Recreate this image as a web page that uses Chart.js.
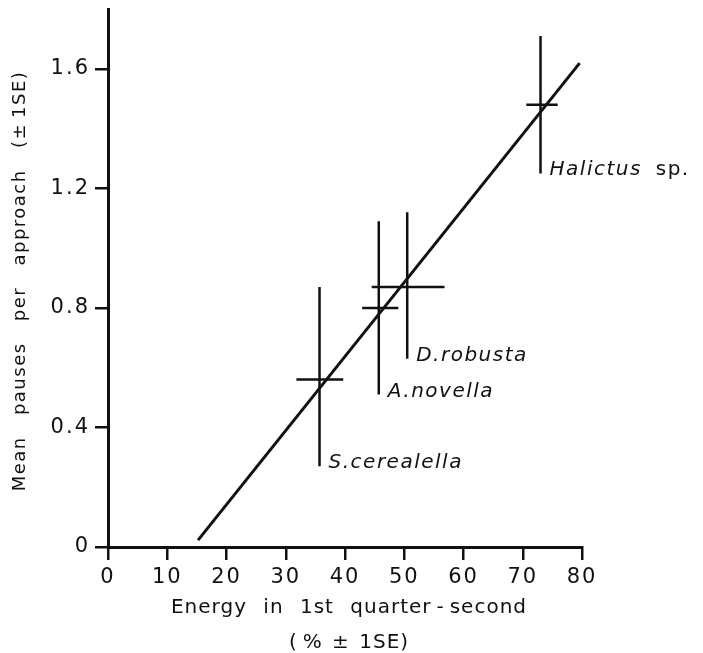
<!DOCTYPE html>
<html><head><meta charset="utf-8">
<script src="https://cdn.jsdelivr.net/npm/chart.js@4"></script>
<style>html,body{margin:0;padding:0;background:#fff}canvas{display:block}</style>
</head><body>
<canvas id="c" width="703" height="653"></canvas>
<script>
// ---- data ----
const species = ['S.cerealella', 'A.novella', 'D.robusta', 'Halictus'];
const speciesSuffix = ['', '', '', ' sp.'];
const energyMean = [35.7, 45.7, 50.5, 73.0];
const energyLow  = [31.8, 42.9, 44.5, 70.6];
const energyHigh = [39.7, 49.0, 56.8, 75.9];
const pausesMean = [0.56, 0.80, 0.87, 1.48];
const pausesLow  = [0.27, 0.51, 0.63, 1.25];
const pausesHigh = [0.87, 1.09, 1.12, 1.71];
const fitX = [15.2, 79.6];
const fitY = [0.023, 1.619];
const xTicks = [0, 10, 20, 30, 40, 50, 60, 70, 80];
const xTickLabels = ['0', '10', '20', '30', '40', '50', '60', '70', '80'];
const yTicks = [0, 0.4, 0.8, 1.2, 1.6];
const yTickLabels = ['0', '0.4', '0.8', '1.2', '1.6'];
const xTitle = ['Energy in 1st quarter\u2009-\u2009second', '(\u2009% \u00B1 1SE)'];
const yTitle = 'Mean pauses per approach (\u00B1\u20091SE)';

const INK = '#111';
const FONT = "'DejaVu Sans'";

const spacing = {
  id: 'spacing',
  beforeDraw(chart) { chart.ctx.letterSpacing = '2px'; chart.ctx.wordSpacing = '0px'; }
};

const errorBars = {
  id: 'errorBars',
  afterDatasetsDraw(chart) {
    const { ctx, scales: { x, y } } = chart;
    ctx.save();
    ctx.strokeStyle = INK; ctx.lineWidth = 2.5; ctx.lineCap = 'butt';
    energyMean.forEach((m, i) => {
      const px = x.getPixelForValue(m), py = y.getPixelForValue(pausesMean[i]);
      ctx.beginPath();
      ctx.moveTo(px, y.getPixelForValue(pausesLow[i]));
      ctx.lineTo(px, y.getPixelForValue(pausesHigh[i]));
      ctx.moveTo(x.getPixelForValue(energyLow[i]), py);
      ctx.lineTo(x.getPixelForValue(energyHigh[i]), py);
      ctx.stroke();
    });
    ctx.fillStyle = INK; ctx.textAlign = 'left'; ctx.textBaseline = 'alphabetic';
    ctx.letterSpacing = '1.5px';
    species.forEach((s, i) => {
      const lx = x.getPixelForValue(energyMean[i]) + 9;
      const ly = y.getPixelForValue(pausesLow[i]) + 2;
      ctx.font = 'oblique 20px ' + FONT;
      ctx.fillText(s, lx, ly);
      if (speciesSuffix[i]) {
        const w = ctx.measureText(s).width;
        ctx.font = '20px ' + FONT;
        ctx.fillText(speciesSuffix[i], lx + w + 6, ly);
      }
    });
    ctx.restore();
  }
};

const titles = {
  id: 'titles',
  afterDraw(chart) {
    const { ctx, chartArea: a } = chart;
    ctx.save();
    ctx.fillStyle = INK; ctx.textAlign = 'center'; ctx.textBaseline = 'middle';
    ctx.font = '20px ' + FONT; ctx.letterSpacing = '1px';
    const cx = (a.left + a.right) / 2 + 4;
    ctx.wordSpacing = '9px';
    ctx.fillText(xTitle[0], cx, a.bottom + 61);
    ctx.wordSpacing = '2px';
    ctx.fillText(xTitle[1], cx, a.bottom + 96);
    ctx.translate(20, (a.top + a.bottom) / 2 + 3);
    ctx.rotate(-Math.PI / 2);
    ctx.font = '18px ' + FONT; ctx.letterSpacing = '1.5px'; ctx.wordSpacing = '14px';
    ctx.fillText(yTitle, 0, 0);
    ctx.restore();
    ctx.letterSpacing = '0px'; ctx.wordSpacing = '0px';
  }
};

const gridOpts = { drawOnChartArea: false, drawTicks: true, tickLength: 13, color: INK, lineWidth: 2.5 };
const borderOpts = { display: true, color: INK, width: 3 };

new Chart(document.getElementById('c'), {
  type: 'scatter',
  data: {
    datasets: [
      {
        label: 'fit',
        data: fitX.map((v, i) => ({ x: v, y: fitY[i] })),
        showLine: true,
        borderColor: INK,
        borderWidth: 3,
        pointRadius: 0,
        fill: false
      },
      {
        label: 'species',
        data: energyMean.map((v, i) => ({ x: v, y: pausesMean[i] })),
        pointRadius: 0,
        showLine: false
      }
    ]
  },
  options: {
    responsive: false,
    animation: false,
    devicePixelRatio: 1,
    layout: { padding: { top: 9, right: 121, left: 0, bottom: 0 } },
    plugins: { legend: { display: false }, tooltip: { enabled: false } },
    scales: {
      x: {
        type: 'linear', min: 0, max: 80,
        afterBuildTicks: s => { s.ticks = xTicks.map(v => ({ value: v })); },
        afterFit: s => { s.height = 106; s.paddingLeft = 0; s.paddingRight = 0; },
        grid: gridOpts, border: borderOpts,
        ticks: {
          color: INK, padding: 5, maxRotation: 0, autoSkip: false,
          font: { family: FONT, size: 21 },
          callback: (v, i) => xTickLabels[i]
        }
      },
      y: {
        type: 'linear', min: 0, max: 1.8,
        afterBuildTicks: s => { s.ticks = yTicks.map(v => ({ value: v })); },
        afterFit: s => { s.width = 108; s.paddingTop = 0; s.paddingBottom = 0; },
        grid: gridOpts, border: borderOpts,
        ticks: {
          color: INK, padding: 5, autoSkip: false,
          font: { family: FONT, size: 21 },
          callback: (v, i) => yTickLabels[i]
        }
      }
    }
  },
  plugins: [spacing, errorBars, titles]
});
</script>
</body></html>
